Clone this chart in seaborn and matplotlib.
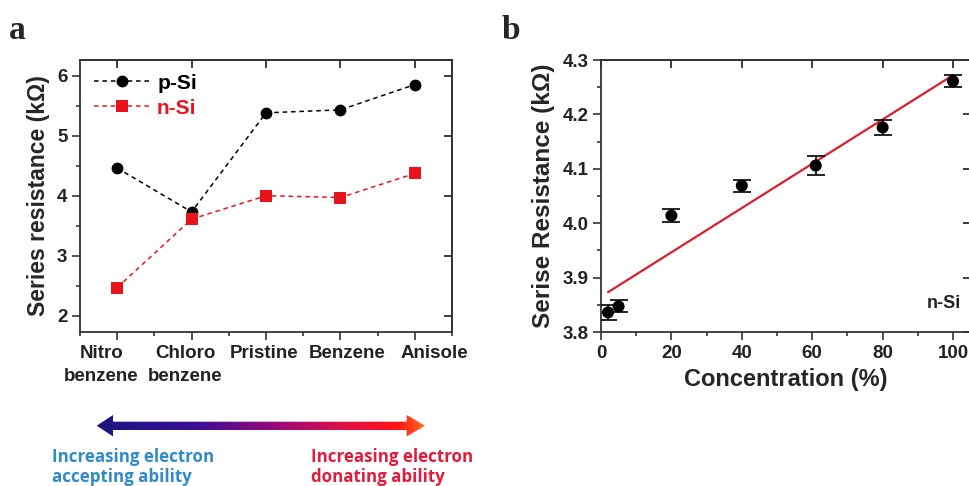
import numpy as np
import pandas as pd
import seaborn as sns
import matplotlib
matplotlib.use("Agg")
import matplotlib.pyplot as plt
from matplotlib.patches import Polygon
from matplotlib.colors import LinearSegmentedColormap
from matplotlib.ticker import MultipleLocator
from matplotlib.transforms import ScaledTranslation

# ---- panel a: series resistance per solvent treatment ----
solvents = ["Nitro\nbenzene", "Chloro\nbenzene", "Pristine", "Benzene", "Anisole"]
p_si = [4.46, 3.73, 5.38, 5.43, 5.85]
n_si = [2.47, 3.61, 4.00, 3.97, 4.37]

# ---- panel b: series resistance vs. concentration (n-Si) ----
conc = [2, 5, 20, 40, 61, 80, 100]
resist = [3.836, 3.847, 4.014, 4.069, 4.106, 4.176, 4.261]
resist_err = [0.014, 0.011, 0.012, 0.011, 0.017, 0.014, 0.011]

sns.set_theme(style="ticks")
plt.rcParams["font.family"] = ["Liberation Sans", "DejaVu Sans"]
plt.rcParams["font.weight"] = "bold"

W, H = 970, 486
fig = plt.figure(figsize=(W / 100, H / 100), dpi=100)


def frac(x0, y0, x1, y1):
    return [x0 / W, 1 - y1 / H, (x1 - x0) / W, (y1 - y0) / H]


def style_axes(ax, labelsize):
    for s in ax.spines.values():
        s.set_linewidth(1.3)
        s.set_color("#333333")
    ax.tick_params(which="both", width=1.2, colors="#333333",
                   labelcolor="#222222", labelsize=labelsize)
    ax.tick_params(which="major", length=5.5)
    ax.tick_params(which="minor", length=3)
    ax.tick_params(which="both", axis="x", direction="out", top=False)
    ax.tick_params(which="both", axis="y", direction="out", right=False)
    ax.secondary_xaxis("top").tick_params(which="both", direction="in", labeltop=False)
    ax.secondary_yaxis("right").tick_params(which="both", direction="in", labelright=False)
    for lab in ax.get_xticklabels() + ax.get_yticklabels():
        lab.set_fontweight("bold")


# ---------------- panel a ----------------
ax1 = fig.add_axes(frac(80, 60, 452, 332))
df_a = pd.DataFrame({
    "solvent": list(range(len(solvents))) * 2,
    "R": p_si + n_si,
    "type": ["p-Si"] * len(p_si) + ["n-Si"] * len(n_si),
})
sns.lineplot(data=df_a, x="solvent", y="R", hue="type", style="type",
             palette={"p-Si": "black", "n-Si": "#e8141c"},
             markers={"p-Si": "o", "n-Si": "s"},
             dashes={"p-Si": (3, 2.5), "n-Si": (3, 2.5)},
             markersize=8.5, markeredgewidth=0, linewidth=1.1, ax=ax1, legend=True)
ax1.set_xlim(-0.5, 4.5)
ax1.set_ylim(1.73, 6.26)
ax1.set_xticks(range(len(solvents)))
ax1.set_xticklabels(solvents)
ax1.xaxis.set_minor_locator(MultipleLocator(0.5))
ax1.yaxis.set_major_locator(MultipleLocator(1))
ax1.yaxis.set_minor_locator(MultipleLocator(0.5))
ax1.set_xlabel("")
ax1.set_ylabel("Series resistance (kΩ)", fontsize=16.5, fontweight="bold", labelpad=5)
leg = ax1.legend(loc="upper left", frameon=False, handlelength=2.7,
                 handletextpad=0.35, borderaxespad=0.25, labelspacing=0.3,
                 prop={"weight": "bold", "size": 15})
for txt, col in zip(leg.get_texts(), ["black", "#e8141c"]):
    txt.set_color(col)
style_axes(ax1, 13.5)
# tick-label nudges (pixels) so the two-line names sit as laid out
label_shift = [-16, -6, -2, 7, 20]
for lab, dx in zip(ax1.get_xticklabels(), label_shift):
    lab.set_fontsize(13.5)
    lab.set_linespacing(1.5)
    lab.set_transform(lab.get_transform() + ScaledTranslation(dx / 100, 0, fig.dpi_scale_trans))

# gradient arrow under panel a
axa = fig.add_axes(frac(92, 410, 430, 442))
axa.set_xlim(92, 430)
axa.set_ylim(442, 410)
axa.axis("off")
arrow_pts = [(96.7, 425.7), (113, 415), (113, 421.7), (406.7, 421.7), (406.7, 415),
             (425, 425.7), (406.7, 436.4), (406.7, 430), (113, 430), (113, 436.4)]
poly = Polygon(arrow_pts, closed=True, facecolor="none", edgecolor="none")
axa.add_patch(poly)
cmap = LinearSegmentedColormap.from_list(
    "acc_don", [(0.0, "#1a1580"), (0.3, "#3a0f95"), (0.55, "#9a0a7a"),
                (0.75, "#e0104a"), (0.92, "#ff1414"), (1.0, "#ff7020")])
grad = np.linspace(0, 1, 400).reshape(1, -1)
im = axa.imshow(grad, cmap=cmap, extent=[96.7, 425, 442, 410], aspect="auto")
im.set_clip_path(poly)

fig.text(52 / W, 1 - 467 / H, "Increasing electron\naccepting ability", color="#2f8ac6",
         fontsize=12.2, fontweight="bold", family=["Open Sans", "DejaVu Sans"],
         ha="left", va="center", linespacing=1.1)
fig.text(311 / W, 1 - 467 / H, "Increasing electron\ndonating ability", color="#e31b3b",
         fontsize=12.2, fontweight="bold", family=["Open Sans", "DejaVu Sans"],
         ha="left", va="center", linespacing=1.1)

# ---------------- panel b ----------------
ax2 = fig.add_axes(frac(601, 60, 970.6, 332))
ax2.errorbar(conc, resist, yerr=resist_err, fmt="none", ecolor="black",
             elinewidth=1.2, capsize=6.3, capthick=1.2, zorder=3)
sns.scatterplot(x=conc, y=resist, color="black", s=75, edgecolor="none", ax=ax2, zorder=4)
sns.regplot(x=conc, y=resist, scatter=False, ci=None, truncate=True,
            line_kws={"color": "#d81f2e", "linewidth": 1.6, "zorder": 2}, ax=ax2)
ax2.set_xlim(0, 105)
ax2.set_ylim(3.8, 4.3)
ax2.xaxis.set_minor_locator(MultipleLocator(10))
ax2.yaxis.set_minor_locator(MultipleLocator(0.05))
ax2.set_xticks([0, 20, 40, 60, 80, 100])
ax2.set_xticklabels(["0", "20", "40", "60", "80", "100"])
ax2.set_yticks([3.8, 3.9, 4.0, 4.1, 4.2, 4.3])
ax2.set_yticklabels(["3.8", "3.9", "4.0", "4.1", "4.2", "4.3"])
ax2.set_xlabel("Concentration (%)", fontsize=17, fontweight="bold", labelpad=5)
ax2.set_ylabel("Serise Resistance (kΩ)", fontsize=17.5, fontweight="bold", labelpad=5)
ax2.text(0.975, 0.105, "n-Si", transform=ax2.transAxes, ha="right", va="center",
         fontsize=13, fontweight="bold", color="#222222")
style_axes(ax2, 13.5)

# panel letters
fig.text(9 / W, 1 - 30 / H, "a", fontsize=24, fontweight="bold",
         family=["Liberation Serif", "DejaVu Serif"], va="center", ha="left")
fig.text(502 / W, 1 - 30 / H, "b", fontsize=24, fontweight="bold",
         family=["Liberation Serif", "DejaVu Serif"], va="center", ha="left")

fig.savefig("out.png", dpi=100, facecolor="white")
